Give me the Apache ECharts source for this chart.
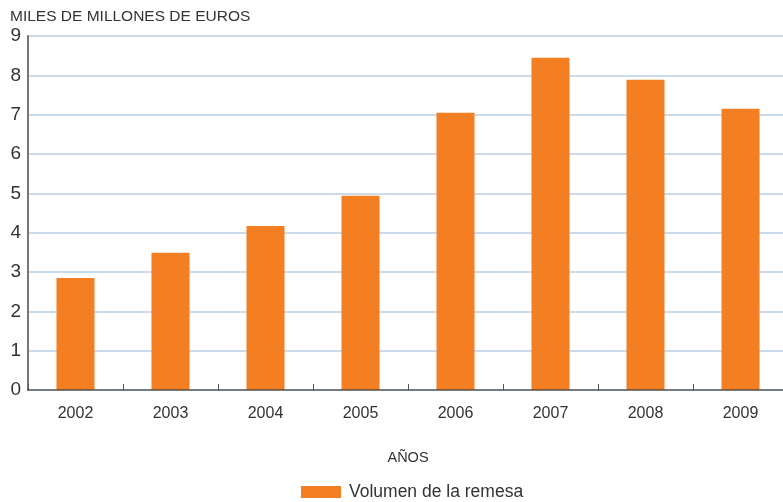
<!DOCTYPE html>
<html>
<head>
<meta charset="utf-8">
<script src="https://cdn.jsdelivr.net/npm/echarts@6/dist/echarts.min.js"></script>
<style>
  html, body { margin: 0; padding: 0; background: #fff; overflow: hidden; }
  #chart { width: 792px; height: 502px; }
</style>
</head>
<body>
<div id="chart"></div>
<script>
// datos
var years = ["2002", "2003", "2004", "2005", "2006", "2007", "2008", "2009"];
var remesa = [2.85, 3.49, 4.17, 4.94, 7.05, 8.45, 7.89, 7.15];
var yTicks = [0, 1, 2, 3, 4, 5, 6, 7, 8, 9];

var myChart = echarts.init(document.getElementById("chart"));
var font = "'Liberation Sans', Arial, Helvetica, sans-serif";

myChart.setOption({
  animation: false,
  textStyle: { fontFamily: font },
  title: {
    text: "MILES DE MILLONES DE EUROS",
    left: 5,
    top: 4,
    textStyle: { fontSize: 15.5, fontWeight: "normal", color: "#333", fontFamily: font }
  },
  legend: {
    data: ["Volumen de la remesa"],
    bottom: -4,
    left: 296,
    itemWidth: 40,
    itemHeight: 12,
    itemGap: 8,
    icon: "rect",
    textStyle: { fontSize: 17.5, color: "#333", fontFamily: font, padding: [0, 0, 0, 3] }
  },
  grid: {
    left: 28,
    top: 36,
    width: 760,
    bottom: 112,
    containLabel: false
  },
  xAxis: {
    type: "category",
    data: years,
    z: 3,
    name: "AÑOS",
    nameLocation: "middle",
    nameGap: 60,
    nameTextStyle: { fontSize: 14.5, color: "#333", fontFamily: font },
    axisLine: { lineStyle: { color: "rgba(60,60,60,0.6)", width: 2 } },
    axisTick: { show: true, inside: true, length: 6, lineStyle: { color: "#555", width: 1 } },
    axisLabel: { fontSize: 16, color: "#333", margin: 16, fontFamily: font }
  },
  yAxis: {
    type: "value",
    min: yTicks[0],
    max: yTicks[yTicks.length - 1],
    interval: 1,
    axisLine: { show: true, lineStyle: { color: "#777", width: 2 } },
    axisTick: { show: false },
    axisLabel: { fontSize: 19, color: "#333", margin: 7, fontFamily: font },
    splitLine: { lineStyle: { color: "#b9d0e6", width: 1.5 } }
  },
  series: [
    {
      name: "Volumen de la remesa",
      type: "bar",
      data: remesa,
      barWidth: 38,
      itemStyle: { color: "#f47f22" }
    }
  ]
});
</script>
</body>
</html>
